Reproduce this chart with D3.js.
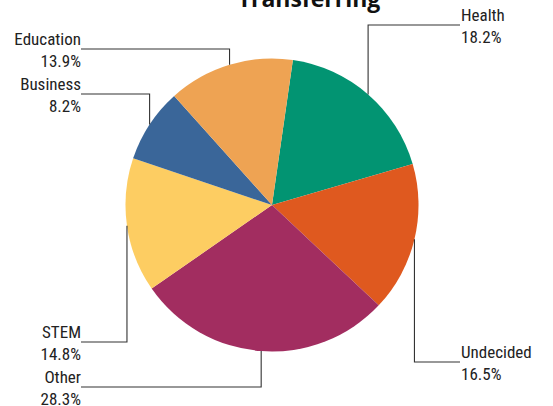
<!DOCTYPE html>
<html>
<head>
<meta charset="utf-8">
<title>Transferring</title>
<script src="https://d3js.org/d3.v7.min.js"></script>
<style>
  body { margin: 0; background: #fff; }
  .lbl { font-family: "Liberation Sans Narrow", "Arial Narrow", "Roboto Condensed", sans-serif; font-size: 17px; fill: #222; }
  .title { font-family: "Open Sans", sans-serif; font-weight: bold; font-size: 23px; fill: #111; }
</style>
</head>
<body>
<svg id="chart" width="553" height="406"></svg>
<script>
// slices, clockwise from just right of 12 o'clock
let categories = ["Health", "Undecided", "Other", "STEM", "Business", "Education"];
let shares = [18.2, 16.5, 28.3, 14.8, 8.2, 13.9];
let colours = ["#029472", "#df591f", "#a22d60", "#fdcd62", "#3a6699", "#eea353"];
// label y (leader line height) and side for each slice
let labelY = [25, 362, 387, 342, 94, 49];
let labelSide = ["right", "right", "left", "left", "left", "left"];

let svg = d3.select("#chart");
let cx = 272, cy = 205, r = 146.5;
let startOff = 8.2 * Math.PI / 180;

let pie = d3.pie().sort(null).value(d => d)
    .startAngle(startOff).endAngle(startOff + 2 * Math.PI);
let arcs = pie(shares);
let arc = d3.arc().innerRadius(0).outerRadius(r);

let g = svg.append("g").attr("transform", `translate(${cx},${cy})`);
g.selectAll("path").data(arcs).enter().append("path")
    .attr("d", arc)
    .attr("fill", (d, i) => colours[i]);

// leader lines: vertical from slice middle on the rim, then across to the label
arcs.forEach(function(d, i) {
    let a = (d.startAngle + d.endAngle) / 2;
    let x0 = cx + r * Math.sin(a), y0 = cy - r * Math.cos(a);
    let right = labelSide[i] === "right";
    let x1 = right ? 460 : 81;
    svg.append("polyline")
        .attr("points", `${x0},${y0} ${x0},${labelY[i]} ${x1},${labelY[i]}`)
        .attr("fill", "none").attr("stroke", "#333").attr("stroke-width", 1.1);
    let tx = right ? 461 : 81;
    let t = svg.append("text").attr("class", "lbl")
        .attr("text-anchor", right ? "start" : "end");
    t.append("tspan").attr("x", tx).attr("y", labelY[i] - 4).text(categories[i]);
    t.append("tspan").attr("x", tx).attr("y", labelY[i] + 18).text(shares[i].toFixed(1) + "%");
});

svg.append("text").attr("class", "title")
    .attr("x", 309).attr("y", 7).attr("text-anchor", "middle")
    .text("Transferring");
</script>
</body>
</html>
